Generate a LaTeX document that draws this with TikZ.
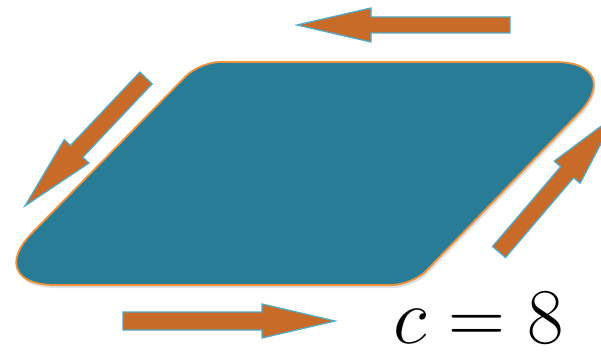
\RequirePackage{fix-cm}
\documentclass[tikz,border=0pt]{standalone}
\definecolor{tealfill}{RGB}{40,124,150}
\definecolor{shapeline}{RGB}{240,145,60}
\definecolor{arrowfill}{RGB}{200,106,40}
\definecolor{arrowline}{RGB}{80,170,200}
\tikzset{
  bigarrow/.style={fill=arrowfill, draw=arrowline, line width=1.3pt, line join=miter},
  plate/.style={fill=tealfill, draw=shapeline, line width=1.8pt}
}
\newcommand\fatarrow[5]{% tail, canvas angle, length, head length, shaft half width
  \begin{scope}[shift={#1}, rotate=#2]
    \path[bigarrow] (0,-#5) -- ({#3-#4},-#5) -- ({#3-#4},-17) -- (#3,0)
      -- ({#3-#4},17) -- ({#3-#4},#5) -- (0,#5) -- cycle;
  \end{scope}}
\begin{document}
\begin{tikzpicture}[x=1pt,y=-1pt]
\useasboundingbox (0,0) rectangle (601,352);
\clip (0,0) rectangle (601,352);
\fill[white] (0,0) rectangle (601,352);
% soft shadow
\begin{scope}[shift={(1.5,3)}]
\fill[black, opacity=0.12] (55,285) .. controls (13.75,285) and (3.8,261.2) .. (33,232)
  -- (185.9,76.1) .. controls (193.7,68.3) and (209,62) .. (220,62)
  -- (555,62) .. controls (596.25,62) and (606.2,85.8) .. (577,115)
  -- (426.1,270.9) .. controls (418.3,278.7) and (403,285) .. (392,285) -- cycle;
\end{scope}
% parallelogram
\path[plate] (55,285) .. controls (13.75,285) and (3.8,261.2) .. (33,232)
  -- (185.9,76.1) .. controls (193.7,68.3) and (209,62) .. (220,62)
  -- (555,62) .. controls (596.25,62) and (606.2,85.8) .. (577,115)
  -- (426.1,270.9) .. controls (418.3,278.7) and (403,285) .. (392,285) -- cycle;
% arrows
\fatarrow{(510,25)}{180}{213}{74}{8}
\fatarrow{(123,321)}{0}{212}{73}{9}
\fatarrow{(146,78)}{226.6}{176}{75}{8.5}
\fatarrow{(499,252)}{49.5}{180}{75}{8.5}
% label
\node[anchor=base west, inner sep=0pt, font=\fontsize{79}{80}\selectfont] (lbl) at (393,343) {$c=8$};
\end{tikzpicture}
\end{document}
